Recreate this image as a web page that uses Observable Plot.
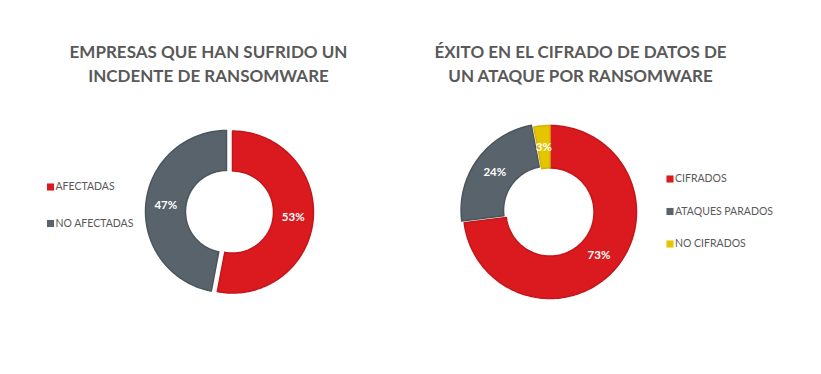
<!DOCTYPE html>
<html>
<head>
<meta charset="utf-8">
<script src="https://cdn.jsdelivr.net/npm/d3@7"></script>
<script src="https://cdn.jsdelivr.net/npm/@observablehq/plot@0.6"></script>
<style>
  html, body { margin: 0; padding: 0; background: #ffffff; }
  #chart svg { display: block; }
</style>
</head>
<body>
<div id="chart"></div>
<script>
// ---- Data ----
const titleLeft = ["EMPRESAS QUE HAN SUFRIDO UN", "INCDENTE DE RANSOMWARE"];
const titleRight = ["ÉXITO EN EL CIFRADO DE DATOS DE", "UN ATAQUE POR RANSOMWARE"];

const leftCategories = ["AFECTADAS", "NO AFECTADAS"];
const leftValues = [53, 47];

const rightCategories = ["CIFRADOS", "ATAQUES PARADOS", "NO CIFRADOS"];
const rightValues = [73, 24, 3];

// ---- Styles ----
const fills = {
  "AFECTADAS": "#da1a1f", "NO AFECTADAS": "#58636b",
  "CIFRADOS": "#da1a1f", "ATAQUES PARADOS": "#58636b", "NO CIFRADOS": "#e6c400"
};
const borders = {
  "AFECTADAS": "#c3161b", "NO AFECTADAS": "#4b555c",
  "CIFRADOS": "#c3161b", "ATAQUES PARADOS": "#4b555c", "NO CIFRADOS": "#d4b300"
};
const textColor = "#595959";
const font = "Lato, 'Open Sans', sans-serif";

// ---- Layout ----
const W = 821, H = 374;
const donuts = [
  {cats: leftCategories, vals: leftValues, cx: 226, cy: 211, ro: 81, ri: 41,
   explode: {"AFECTADAS": 6}},
  {cats: rightCategories, vals: rightValues, cx: 549.5, cy: 211.5, ro: 86.5, ri: 44,
   explode: {"ATAQUES PARADOS": 3}}
];

// build polygons
const slices = [];
const labels = [];
for (const dn of donuts) {
  const total = d3.sum(dn.vals);
  let acc = 0;
  dn.cats.forEach((c, i) => {
    const a0 = acc / total * 2 * Math.PI;
    acc += dn.vals[i];
    const a1 = acc / total * 2 * Math.PI;
    const am = (a0 + a1) / 2;
    const ex = dn.explode[c] || 0;
    const ox = dn.cx + ex * Math.sin(am), oy = dn.cy - ex * Math.cos(am);
    const n = Math.max(4, Math.ceil((a1 - a0) / (2 * Math.PI) * 240));
    const pts = [];
    for (let k = 0; k <= n; k++) {
      const a = a0 + (a1 - a0) * k / n;
      pts.push({x: ox + dn.ro * Math.sin(a), y: oy - dn.ro * Math.cos(a)});
    }
    for (let k = n; k >= 0; k--) {
      const a = a0 + (a1 - a0) * k / n;
      pts.push({x: ox + dn.ri * Math.sin(a), y: oy - dn.ri * Math.cos(a)});
    }
    slices.push({cat: c, pts});
    const rm = (dn.ro + dn.ri) / 2;
    labels.push({x: ox + rm * Math.sin(am), y: oy - rm * Math.cos(am),
                 text: Math.round(dn.vals[i] / total * 100) + "%"});
  });
}

// legend items
const legend = [];
leftCategories.forEach((c, i) => legend.push({cat: c, x: 50, y: 186.5 + i * 36.5}));
rightCategories.forEach((c, i) => legend.push({cat: c, x: 669.5, y: 178.5 + i * 32.5}));

// titles
const titles = [];
titleLeft.forEach((t, i) => titles.push({text: t, x: 208, y: 52 + i * 24}));
titleRight.forEach((t, i) => titles.push({text: t, x: 580, y: 52 + i * 24}));

const marks = [];
for (const s of slices) {
  marks.push(Plot.line(s.pts, {x: "x", y: "y", curve: "linear-closed",
    fill: fills[s.cat], stroke: borders[s.cat], strokeWidth: 1.5}));
}
marks.push(
  Plot.text(labels, {x: "x", y: "y", text: "text", fill: "#ffffff",
    fontSize: 11.5, fontWeight: "bold", fontFamily: font}),
  Plot.dot(legend, {x: "x", y: "y", symbol: "square", r: 4,
    fill: d => fills[d.cat], stroke: "none"}),
  Plot.text(legend, {x: d => d.x + 5, y: "y", text: "cat", textAnchor: "start",
    fill: textColor, fontSize: 10.5, fontFamily: font}),
  Plot.text(titles, {x: "x", y: "y", text: "text", fill: textColor,
    fontSize: 17, fontWeight: "bold", fontFamily: font})
);

const chart = Plot.plot({
  width: W, height: H,
  margin: 0,
  x: {domain: [0, W], range: [0, W], axis: null},
  y: {domain: [0, H], range: [0, H], axis: null},
  style: {background: "#ffffff", fontFamily: font},
  marks
});
document.getElementById("chart").appendChild(chart);
</script>
</body>
</html>
